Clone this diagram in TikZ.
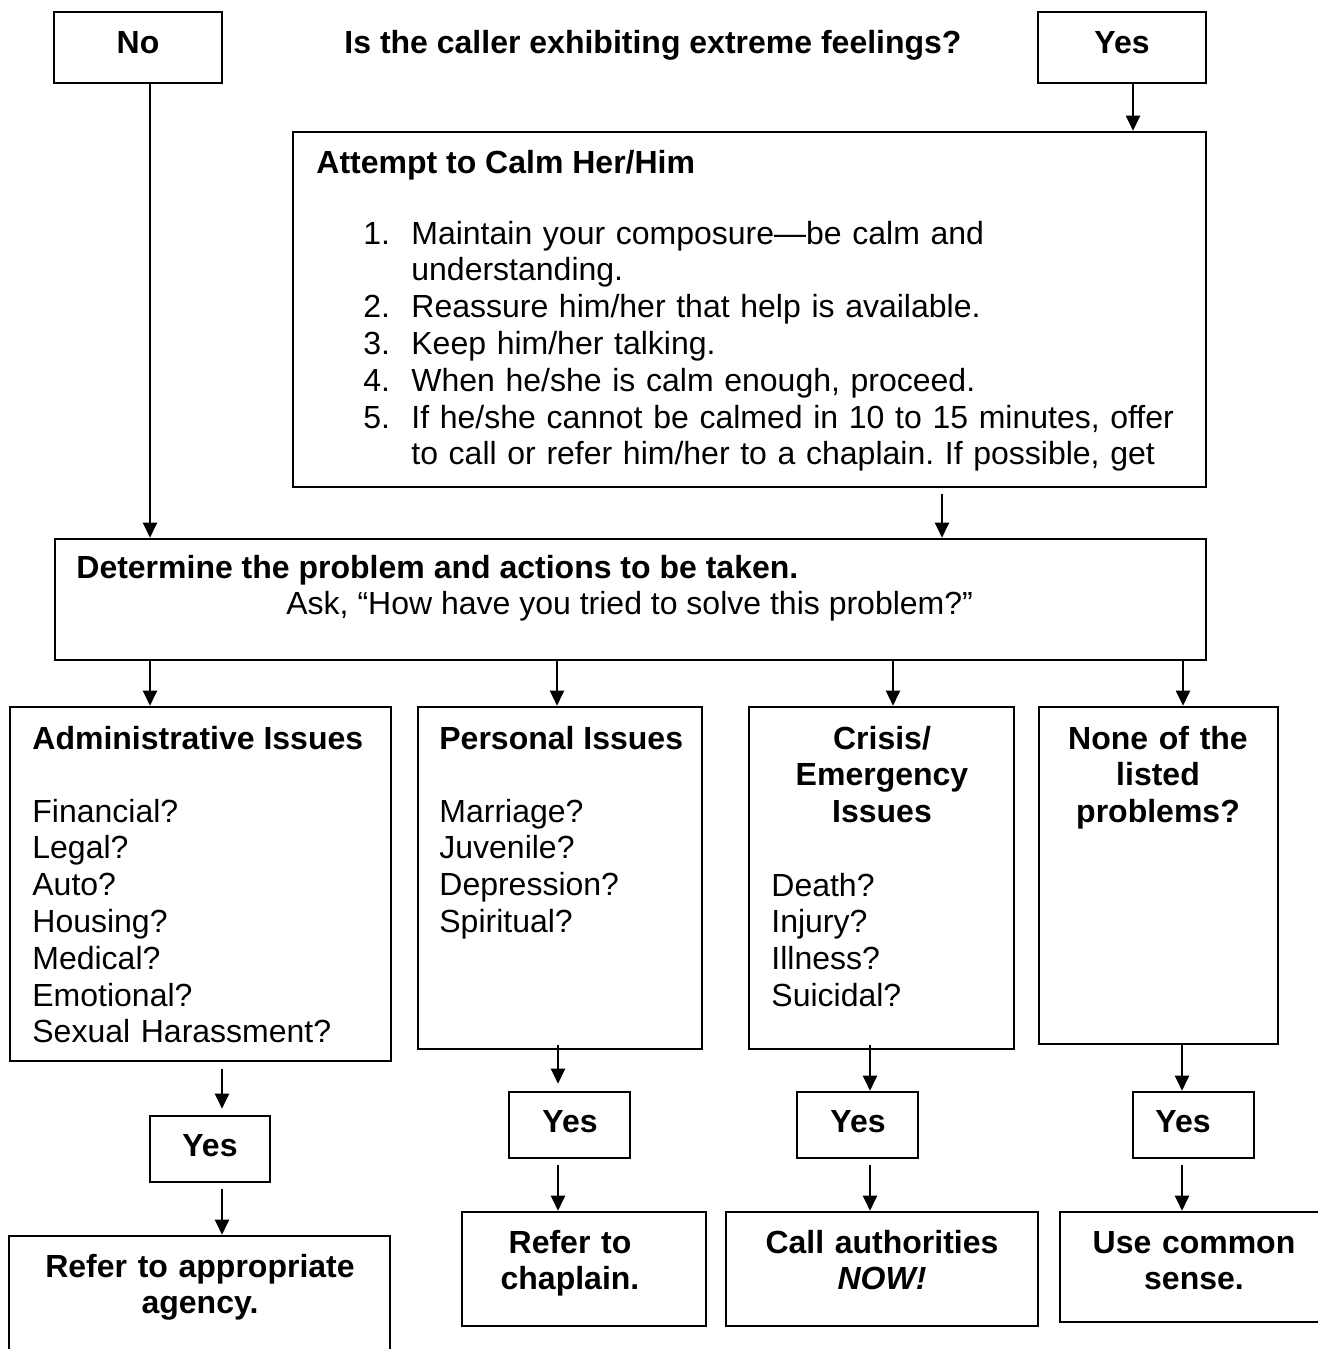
\documentclass[tikz,border=0pt]{standalone}
\usepackage{fontspec}
\setmainfont{Liberation Sans}
\usetikzlibrary{arrows.meta,fit}
\frenchspacing
\begin{document}
\begin{tikzpicture}[x=0.5pt,y=-0.5pt,
  box/.style={draw,line width=1.3pt,inner sep=0pt},
  arr/.style={line width=1pt,-{Triangle[width=7pt,length=7.5pt]}},
  txt/.style={inner sep=0pt,font=\fontsize{16pt}{18.4pt}\selectfont\frenchspacing},
  btxt/.style={inner sep=0pt,font=\fontsize{16pt}{18.4pt}\selectfont\bfseries\frenchspacing},
  lst/.style={txt,anchor=base west,text width=200pt,align=left},
  ctr/.style={btxt,anchor=base,text width=220pt,align=center}]
\useasboundingbox (0,0) rectangle (1317,1349);

% ---- boxes
\node[box,fit={(54,12)(222,83)}] (no) {};
\node[box,fit={(1038,12)(1206,83)}] (yes0) {};
\node[box,fit={(293,132)(1206,487)}] (calm) {};
\node[box,fit={(55,539)(1206,660)}] (det) {};
\node[box,fit={(10,707)(391,1061)}] (b1) {};
\node[box,fit={(418,707)(702,1049)}] (b2) {};
\node[box,fit={(749,707)(1014,1049)}] (b3) {};
\node[box,fit={(1039,707)(1278,1044)}] (b4) {};
\node[box,fit={(150,1116)(270,1182)}] (y1) {};
\node[box,fit={(509,1092)(630,1158)}] (y2) {};
\node[box,fit={(797,1092)(918,1158)}] (y3) {};
\node[box,fit={(1133,1092)(1254,1158)}] (y4) {};
\node[box,fit={(9,1236)(390,1370)}] (r1) {};
\node[box,fit={(462,1212)(706,1326)}] (r2) {};
\node[box,fit={(726,1212)(1038,1326)}] (r3) {};
\node[box,fit={(1060,1212)(1340,1322)}] (r4) {};

% ---- texts
\node[btxt,anchor=base] (qtitle) at (653,54) {Is the caller exhibiting extreme feelings?};
\node[btxt] (notxt) at (138,43) {No};
\node[btxt] (yes0txt) at (1122,43) {Yes};

\node[btxt,anchor=base west] (calmhead) at (316,173) {Attempt to Calm Her/Him};
\node[txt,anchor=base west,text width=420pt,align=left] (calmlist) at (363,244)
 {\makebox[24pt][l]{1.}Maintain your composure—be calm and\\
  \hspace*{24pt}understanding.\\
  \makebox[24pt][l]{2.}Reassure him/her that help is available.\\
  \makebox[24pt][l]{3.}Keep him/her talking.\\
  \makebox[24pt][l]{4.}When he/she is calm enough, proceed.\\
  \makebox[24pt][l]{5.}If he/she cannot be calmed in 10 to 15 minutes, offer\\
  \hspace*{24pt}to call or refer him/her to a chaplain. If possible, get};

\node[btxt,anchor=base west] (dethead) at (76,578) {Determine the problem and actions to be taken.};
\node[txt,anchor=base west] (detask) at (286,614) {Ask, “How have you tried to solve this problem?”};

\node[btxt,anchor=base west] (b1head) at (32,749) {Administrative Issues};
\node[lst] (b1list) at (32,822) {Financial?\\Legal?\\Auto?\\Housing?\\Medical?\\Emotional?\\Sexual Harassment?};

\node[btxt,anchor=base west] (b2head) at (439,749) {Personal Issues};
\node[lst] (b2list) at (439,822) {Marriage?\\Juvenile?\\Depression?\\Spiritual?};

\node[ctr] (b3head) at (882,749) {Crisis/\\Emergency\\Issues};
\node[lst] (b3list) at (771,896) {Death?\\Injury?\\Illness?\\Suicidal?};

\node[ctr] (b4head) at (1158,749) {None of the\\listed\\problems?};

\node[btxt] (y1txt) at (210,1146) {Yes};
\node[btxt] (y2txt) at (570,1122) {Yes};
\node[btxt] (y3txt) at (858,1122) {Yes};
\node[btxt] (y4txt) at (1183,1122) {Yes};

\node[ctr] (r1txt) at (200,1277) {Refer to appropriate\\agency.};
\node[ctr] (r2txt) at (570,1253) {Refer to\\chaplain.};
\node[ctr] (r3txt) at (882,1253) {Call authorities\\\textit{NOW!}};
\node[ctr] (r4txt) at (1194,1253) {Use common\\sense.};

% ---- connector x positions
\coordinate (xa) at (150,0);
\coordinate (xb) at (1133,0);
\coordinate (xc) at (942,0);
\coordinate (x2) at (557,0);
\coordinate (x3) at (893,0);
\coordinate (x4) at (1183,0);
\coordinate (xy1) at (222,0);
\coordinate (xy2) at (558,0);
\coordinate (xy3) at (870,0);
\coordinate (xy4) at (1182,0);

% ---- connectors
\draw[arr] (no.south -| xa) -- (det.north -| xa);
\draw[arr] (yes0.south -| xb) -- (calm.north -| xb);
\draw[arr,shorten <=3pt] (calm.south -| xc) -- (det.north -| xc);
\draw[arr] (det.south -| xa) -- (b1.north -| xa);
\draw[arr] (det.south -| x2) -- (b2.north -| x2);
\draw[arr] (det.south -| x3) -- (b3.north -| x3);
\draw[arr] (det.south -| x4) -- (b4.north -| x4);

\draw[arr,shorten <=3.5pt,shorten >=3pt] (b1.south -| xy1) -- (y1.north -| xy1);
\draw[arr,shorten <=3pt] (y1.south -| xy1) -- (r1.north -| xy1);
\draw[arr,shorten <=-2.5pt,shorten >=3.5pt] (b2.south -| xy2) -- (y2.north -| xy2);
\draw[arr,shorten <=3pt] (y2.south -| xy2) -- (r2.north -| xy2);
\draw[arr,shorten <=-2.5pt] (b3.south -| xy3) -- (y3.north -| xy3);
\draw[arr,shorten <=3pt] (y3.south -| xy3) -- (r3.north -| xy3);
\draw[arr] (b4.south -| xy4) -- (y4.north -| xy4);
\draw[arr,shorten <=3pt] (y4.south -| xy4) -- (r4.north -| xy4);
\end{tikzpicture}
\end{document}
